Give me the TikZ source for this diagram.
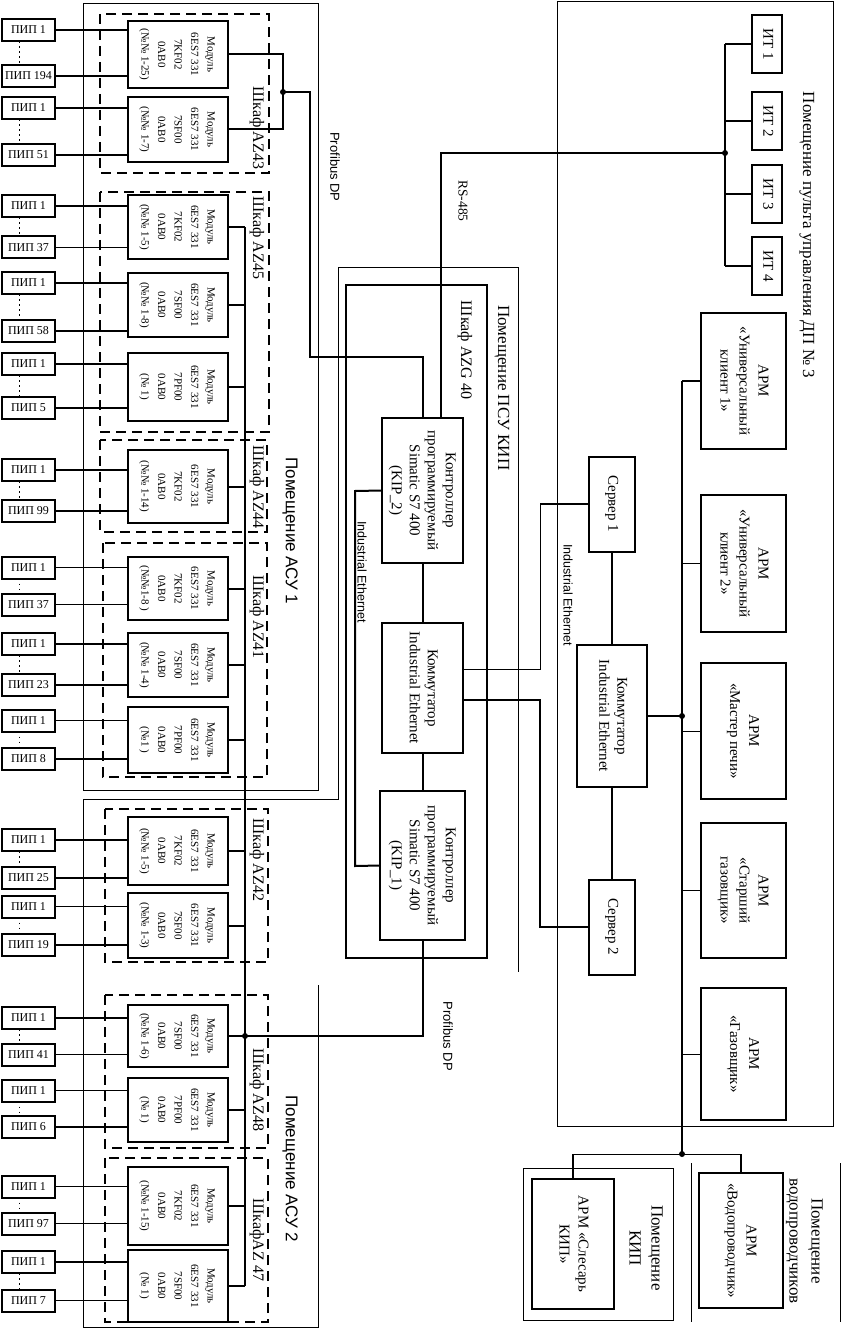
\documentclass[tikz,border=0pt]{standalone}
\usepackage{fontspec}
\usepackage{graphicx}
\setmainfont{Liberation Serif}
\newfontfamily\sansf{Liberation Sans}
\newcommand\rtxt[3]{\rotatebox{-90}{\fontsize{#1}{#2}\selectfont\begin{tabular}{@{}c@{}}#3\end{tabular}}}
\begin{document}
\begin{tikzpicture}[x=1pt,y=-1pt,
  tn/.style={line width=1pt},
  tk/.style={line width=2pt},
  bus/.style={line width=2.5pt},
  room/.style={line width=1pt},
  cab/.style={line width=2pt, dash pattern=on 10pt off 6pt},
  box/.style={draw, line width=2pt, inner sep=0pt, outer sep=0pt},
  pip/.style={box, minimum width=53, minimum height=22},
  mod/.style={box, minimum width=100},
  apm/.style={box, minimum width=85},
  lbl/.style={rotate=-90, inner sep=0pt},
  plain/.style={inner sep=0pt},
  dotl/.style={line width=1.6pt, dash pattern=on 1.6pt off 3.4pt},
  jdot/.style={circle, fill, inner sep=0pt, minimum size=6pt}]
\useasboundingbox (0,0) rectangle (841,1329);

% ---------------- rooms ----------------
\draw[room] (83,4) rectangle (318,790);
\draw[room] (318,985) -- (318,1327) -- (83,1327) -- (83,799) -- (338,799) -- (338,268) -- (518,268) -- (518,972);
\draw[room] (557,2) rectangle (833,1126);
\draw[room] (523,1168) rectangle (673,1320);
\draw[room] (691,1163) -- (691,1322);
\draw[room] (840,1163) -- (840,1322);

\node[lbl, font=\sansf\fontsize{17}{19}\selectfont] (rAsu1) at (290,531) {Помещение АСУ 1};
\node[lbl, font=\sansf\fontsize{17}{19}\selectfont] (rAsu2) at (290,1169) {Помещение АСУ 2};
\node[lbl, font=\fontsize{17}{19}\selectfont] (rPsu) at (502,388) {Помещение ПСУ КИП};
\node[lbl, font=\fontsize{17}{19}\selectfont] (rPult) at (807,235) {Помещение пульта управления ДП № 3};
\node[plain] (rKip) at (645,1248) {\rtxt{17}{22}{Помещение\\КИП}};
\node[plain] (rVod) at (805,1241) {\rtxt{17}{22}{Помещение\\водопроводчиков}};

% ---------------- cabinets ----------------
\draw[cab] (100,14) rectangle (269,173);
\draw[cab] (100,192) rectangle (269,432);
\draw[cab] (100,440) rectangle (267,532);
\draw[cab] (103,543) rectangle (267,777);
\draw[cab] (105,809) rectangle (268,962);
\draw[cab] (105,995) rectangle (268,1148);
\draw[cab] (105,1158) rectangle (268,1322);
\foreach \n/\y/\t in {c43/128/{Шкаф AZ43}, c45/238/{Шкаф AZ45}, c44/487/{Шкаф AZ44}, c41/617/{Шкаф AZ41}, c42/860/{Шкаф AZ42}, c48/1090/{Шкаф AZ48}, c47/1240/{ШкафAZ 47}}
  \node[lbl, font=\fontsize{16}{18}\selectfont] (\n) at (257,\y) {\t};

\draw[line width=2.5pt] (346,285) rectangle (487,958);
\node[lbl, font=\fontsize{16}{18}\selectfont] (cG40) at (465,350) {Шкаф AZG 40};

% ---------------- modules ----------------
\foreach \i/\y/\h/\t/\n in {
1/54.5/67/7KF02/{(№№ 1-25)},
2/129.5/65/7SF00/{(№№ 1-7)},
3/227/64/7KF02/{(№№ 1-5)},
4/305/64/7SF00/{(№№ 1-8)},
5/387/68/7PF00/{(№ 1)},
6/486.5/73/7KF02/{(№№ 1-14)},
7/588.5/63/7KF02/{(№№1-8 )},
8/665/64/7SF00/{(№№ 1-4)},
9/740/66/7PF00/{(№1 )},
10/851/68/7KF02/{(№№ 1-5)},
11/925.5/65/7SF00/{(№№ 1-3)},
12/1036/62/7SF00/{(№№ 1-6)},
13/1110/64/7PF00/{(№ 1)},
14/1206/78/7KF02/{(№№ 1-15)},
15/1286/72/7SF00/{(№ 1)}}
  \node[mod, minimum height=\h] (m\i) at (178,\y) {\rtxt{11}{16.5}{Модуль\\6ES7 331\\\t\\0AB0\\\n}};

% ---------------- sensors ----------------
\foreach \i/\ya/\yb/\lb in {1/30/76/194, 2/108/155/51, 3/206/247.5/37, 4/283/331/58, 5/364/408/5, 6/470/511/99, 7/567.5/604.5/37, 8/644/685/23, 9/720.5/759/8, 10/840/878/25, 11/906.5/945/19, 12/1018/1054.5/41, 13/1090.5/1127/6, 14/1186.5/1223.5/97, 15/1262/1300.5/7} {
  \node[pip] (pa\i) at (28.5,\ya) {\fontsize{12}{14}\selectfont ПИП 1};
  \node[pip] (pb\i) at (28.5,\yb) {\fontsize{12}{14}\selectfont ПИП \lb};
  \draw[dotl] ([xshift=-9pt]pa\i.south) -- ([xshift=-9pt]pb\i.north);
  \draw[line width=1.2pt] (pa\i.east) -- (pa\i.east -| m\i.west);
  \draw[line width=1.2pt] (pb\i.east) -- (pb\i.east -| m\i.west);
}

% ---------------- Profibus AZ43 ----------------
\coordinate (b43) at (283,92);
\coordinate (pf1) at (310,92);
\coordinate (pf2) at (310,357);
\draw[tk] (m1.east) -- (m1.east -| b43) -- (m2.east -| b43) -- (m2.east);

% ---------------- PSU KIP ----------------
\node[box, minimum width=81, minimum height=145] (kip2) at (422.5,490.5) {\rtxt{15}{18}{Контроллер\\программируемый\\Simatic S7 400\\(KIP\_2)}};
\node[box, minimum width=81, minimum height=130] (sw1) at (422.5,688) {\rtxt{15}{18}{Коммутатор\\Industrial Ethernet}};
\node[box, minimum width=85, minimum height=149] (kip1) at (422.5,865.5) {\rtxt{15}{18}{Контроллер\\программируемый\\Simatic S7 400\\(KIP\_1)}};

\draw[tk] (b43) -- (pf1) -- (pf2) -| (kip2.north);
\draw[tk] (kip2.south) -- (sw1.north);
\draw[tk] (sw1.south) -- (kip1.north);
\coordinate (ie1) at (355,491);
\coordinate (ie2) at (355,866);
\draw[tk] (kip2.west) -- (ie1) -- (ie2) -- (kip1.west);
\node[lbl, font=\sansf\fontsize{12.5}{14}\selectfont] (lIE1) at (362,572) {Industrial Ethernet};

% ---------------- main bus ----------------
\coordinate (busT) at (245,227);
\draw[bus] (m3.east -| busT) -- (m15.east -| busT);
\foreach \i in {3,...,15} \draw[tk] (m\i.east) -- (m\i.east -| busT);
\coordinate (pdot) at (m12.east -| busT);
\draw[tk] (pdot) -| (kip1.south);

\node[lbl, font=\sansf\fontsize{13}{15}\selectfont] (lPdp1) at (335,167) {Profibus DP};
\node[lbl, font=\sansf\fontsize{13}{15}\selectfont] (lPdp2) at (448,1036) {Profibus DP};

% ---------------- IT ----------------
\coordinate (itdot) at (725,153);
\foreach \k/\y in {1/44, 2/121, 3/194, 4/266}
  \node[box, minimum width=30, minimum height=58] (it\k) at (767,\y) {\rtxt{15}{18}{ИТ \k}};
\draw[tk] (it1.west -| itdot) -- (it4.west -| itdot);
\foreach \k in {1,...,4} \draw[tk] (it\k.west -| itdot) -- (it\k.west);
\draw[tk] ([xshift=18.5pt]kip2.north) |- (itdot);
\node[lbl, font=\fontsize{13.5}{15}\selectfont] (lRS) at (463,201) {RS-485};

% ---------------- servers / switch ----------------
\node[box, minimum width=46, minimum height=95] (srv1) at (612,504) {\rtxt{15}{18}{Сервер 1}};
\node[box, minimum width=46, minimum height=95] (srv2) at (612,927) {\rtxt{15}{18}{Сервер 2}};
\node[box, minimum width=70, minimum height=142] (sw2) at (612,716) {\rtxt{15}{18}{Коммутатор\\Industrial Ethernet}};
\coordinate (r1) at (540,504);
\coordinate (r2) at (540,927);
\draw[tn] ([yshift=19pt]sw1.east) -| (r1);
\draw[tk] (r1) -- (srv1.west);
\draw[tk] ([yshift=-12pt]sw1.east) -| (r2) -- (srv2.west);
\draw[tk] (srv1.south) -- (sw2.north);
\draw[tk] (sw2.south) -- (srv2.north);
\node[lbl, font=\sansf\fontsize{12.5}{14}\selectfont] (lIE2) at (568,595) {Industrial Ethernet};

% ---------------- APM ----------------
\node[apm, minimum height=136] (a1) at (743.5,381) {\rtxt{15}{19}{АРМ\\«Универсальный\\клиент 1»}};
\node[apm, minimum height=137] (a2) at (743.5,563.5) {\rtxt{15}{19}{АРМ\\«Универсальный\\клиент 2»}};
\node[apm, minimum height=136] (a3) at (743.5,731) {\rtxt{15}{19}{АРМ\\«Мастер печи»}};
\node[apm, minimum height=135] (a4) at (743.5,890.5) {\rtxt{15}{19}{АРМ\\«Старший\\газовщик»}};
\node[apm, minimum height=132] (a5) at (743.5,1054) {\rtxt{15}{19}{АРМ\\«Газовщик»}};
\coordinate (rdot) at (682,716);
\coordinate (bdot) at (682,1154);
\draw[bus] (a1.west -| rdot) -- (bdot);
\draw[tk] (a1.west -| rdot) -- (a1.west);
\foreach \k in {2,...,5} \draw[tn] (a\k.west -| rdot) -- (a\k.west);
\draw[tk] (sw2.east) -- (rdot);

\node[box, minimum width=82, minimum height=130] (sles) at (573,1244) {\rtxt{15}{19}{АРМ «Слесарь\\КИП»}};
\node[box, minimum width=84, minimum height=135] (vodo) at (741,1240.5) {\rtxt{15}{19}{АРМ\\«Водопроводчик»}};
\draw[tn] (bdot -| sles.north) -- (bdot -| vodo.north);
\draw[tk] (bdot -| sles.north) -- (sles.north);
\draw[tk] (bdot -| vodo.north) -- (vodo.north);

% ---------------- junction dots ----------------
\node[jdot] (d1) at (b43) {};
\node[jdot] (d2) at (pdot) {};
\node[jdot] (d3) at (itdot) {};
\node[jdot] (d4) at (rdot) {};
\node[jdot] (d5) at (bdot) {};
\end{tikzpicture}
\end{document}
